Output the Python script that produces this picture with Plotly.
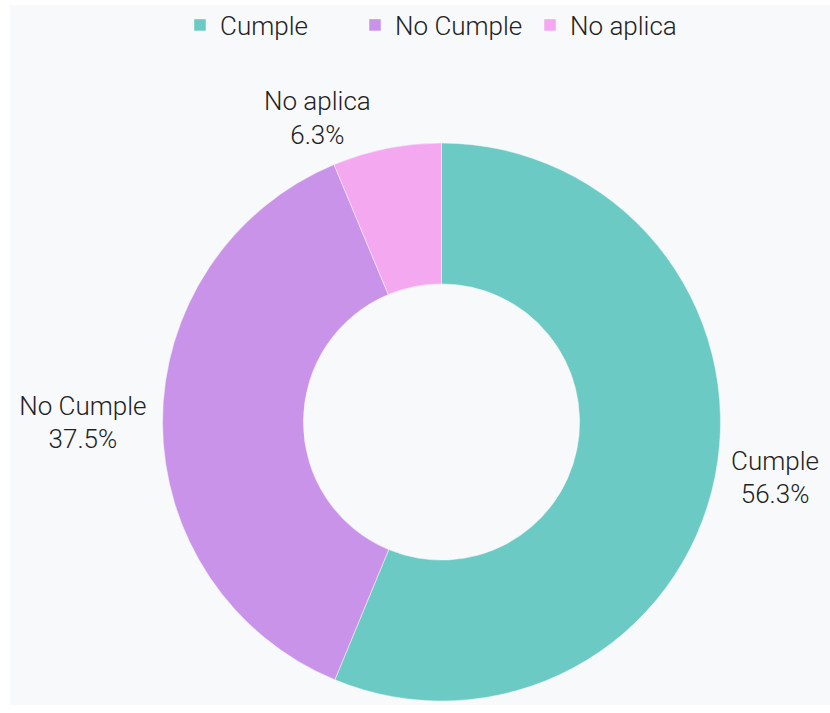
import plotly.graph_objects as go

# Compliance breakdown (percent of items)
categories = ["Cumple", "No Cumple", "No aplica"]
shares = [56.3, 37.5, 6.3]
colors = ["#6CCAC5", "#C993EA", "#F3A8F0"]

W, H = 830, 713
cx, cy, r = 441.5, 422, 279  # pie centre / radius in pixels (cy from top)

label_font = dict(family="Roboto", size=26, color="#222222", weight=300)

fig = go.Figure(
    go.Pie(
        labels=categories,
        values=shares,
        hole=0.495,
        sort=False,
        direction="clockwise",
        rotation=0,
        marker=dict(colors=colors, line=dict(color="#F8F9FB", width=0.5)),
        texttemplate="%{label}<br>%{value}%",
        textposition="outside",
        textfont=label_font,
        domain=dict(
            x=[(cx - r) / W, (cx + r) / W],
            y=[(H - cy - r) / H, (H - cy + r) / H],
        ),
        showlegend=True,
    )
)

fig.update_layout(
    width=W,
    height=H,
    margin=dict(l=0, r=0, t=0, b=0),
    paper_bgcolor="#FFFFFF",
    font=label_font,
    legend=dict(
        orientation="h",
        x=180 / W,
        xanchor="left",
        y=1 - 25 / H,
        yanchor="middle",
        font=label_font,
        itemwidth=30,
        entrywidth=130,
        entrywidthmode="pixels",
        bgcolor="rgba(0,0,0,0)",
    ),
    shapes=[
        dict(
            type="rect",
            xref="paper",
            yref="paper",
            x0=10 / W,
            x1=1,
            y0=8 / H,
            y1=1 - 5 / H,
            fillcolor="#F8F9FB",
            line=dict(width=0),
            layer="below",
        )
    ],
)

fig.write_html("out.html")
